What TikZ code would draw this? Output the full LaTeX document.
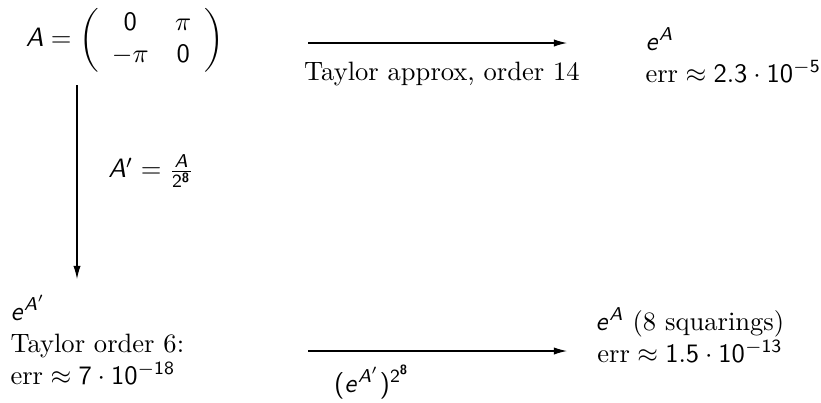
\documentclass[tikz,border=0pt]{standalone}
\usepackage{amsmath}
\DeclareSymbolFont{operators}{OT1}{cmss}{m}{n}
\DeclareSymbolFont{sfletters}{OT1}{cmss}{m}{sl}
\DeclareMathSymbol{A}{\mathalpha}{sfletters}{`A}
\DeclareMathSymbol{e}{\mathalpha}{sfletters}{`e}
\usetikzlibrary{arrows.meta}
\newcommand{\beight}{\text{\sffamily\bfseries 8}}
\tikzset{
  txt/.style={inner sep=0pt, font=\fontsize{10}{12}\selectfont},
  conn/.style={line width=0.4pt, -{Latex[length=4.9pt,width=2.7pt]}}
}
\begin{document}
\begin{tikzpicture}[x=0.3765pt,y=-0.3765pt]
\useasboundingbox (0,0) rectangle (821,402);
\node[txt] (matA) at (125,40) {$A=\left(\begin{array}{cc}0&\pi\\-\pi&0\end{array}\right)$};
\node[txt, anchor=west, align=left] (eA) at (645,55) {$e^A$\\$\text{err}\approx2.3\cdot10^{-5}$};
\node[txt, anchor=west, align=left] (eAp) at (10,340) {$e^{A'}$\\Taylor order 6:\\$\text{err}\approx7\cdot10^{-18}$};
\node[txt, align=center] (eAsq) at (690,335) {$e^A$ (8 squarings)\\$\text{err}\approx1.5\cdot10^{-13}$};
\coordinate (t1) at (308,43);
\coordinate (t2) at (567,43);
\coordinate (v1) at (77,85);
\coordinate (v2) at (77,279);
\coordinate (b1) at (308,351);
\coordinate (b2) at (567,351);
\draw[conn] (t1) -- (t2);
\draw[conn] (v1) -- (v2);
\draw[conn] (b1) -- (b2);
\node[txt, anchor=base] (ltop) at (442,80) {Taylor approx, order 14};
\node[txt] (lv) at (151,171) {$A'=\frac{A}{2^{\beight}}$};
\node[txt, anchor=base] (lbot) at (372,392) {$(e^{A'})^{2^{\beight}}$};
\end{tikzpicture}
\end{document}
